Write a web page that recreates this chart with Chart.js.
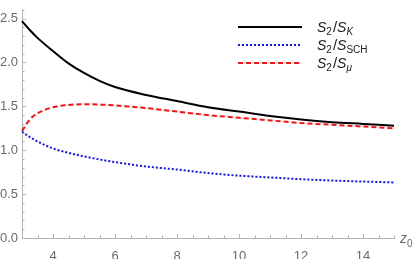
<!DOCTYPE html>
<html>
<head>
<meta charset="utf-8">
<script src="https://cdn.jsdelivr.net/npm/chart.js@4"></script>
<style>
  html, body { margin: 0; padding: 0; background: #fff; }
  #wrap { width: 415px; height: 259px; }
</style>
</head>
<body>
<div id="wrap"><canvas id="chart" width="415" height="259"></canvas></div>
<script>
// z0 values
const zValues = [3, 3.25, 3.5, 4, 4.5, 5, 5.5, 6, 7, 8, 9, 10, 11, 12, 13, 14, 15];
const ratioK   = [2.47, 2.37, 2.28, 2.13, 1.99, 1.88, 1.79, 1.72, 1.63, 1.56, 1.49, 1.44, 1.39, 1.35, 1.32, 1.30, 1.28];
const ratioSCH = [1.21, 1.15, 1.10, 1.02, 0.97, 0.93, 0.895, 0.865, 0.815, 0.78, 0.74, 0.71, 0.69, 0.67, 0.655, 0.643, 0.633];
const ratioMu  = [1.22, 1.35, 1.42, 1.49, 1.515, 1.525, 1.52, 1.51, 1.48, 1.44, 1.40, 1.37, 1.34, 1.31, 1.29, 1.27, 1.25];
const xTickLabels = [4, 6, 8, 10, 12, 14];
const yTickLabels = [0, 0.5, 1, 1.5, 2, 2.5];

const toPoints = (ys) => ys.map((y, i) => ({ x: zValues[i], y: y }));

const axisGray = '#b3b3b3';
const labelGray = '#6b6b6b';

// ticks pointing inward, like the original
const inwardTicks = {
    id: 'inwardTicks',
    afterDraw(chart) {
        const ctx = chart.ctx;
        const xs = chart.scales.x, ys = chart.scales.y;
        const y0 = ys.getPixelForValue(0);
        const x0 = xs.getPixelForValue(3);
        ctx.save();
        ctx.strokeStyle = axisGray;
        ctx.lineWidth = 1;
        ctx.beginPath();
        for (let v = 3.5; v <= 15.001; v += 0.5) {
            const px = Math.round(xs.getPixelForValue(v)) + 0.5;
            const len = (Math.abs(v - Math.round(v)) < 1e-6 && Math.round(v) % 2 === 0) ? 4 : 2.5;
            ctx.moveTo(px, y0);
            ctx.lineTo(px, y0 - len);
        }
        for (let k = 1; k <= 26; k++) {
            const v = k / 10;
            const py = Math.round(ys.getPixelForValue(v)) + 0.5;
            const len = (k % 5 === 0) ? 4 : 2.5;
            ctx.moveTo(x0, py);
            ctx.lineTo(x0 + len, py);
        }
        ctx.stroke();
        // axis label z0
        ctx.fillStyle = labelGray;
        ctx.textBaseline = 'alphabetic';
        ctx.font = 'italic 14px "Liberation Sans"';
        ctx.fillText('z', 400, 243);
        ctx.font = '10px "Liberation Sans"';
        ctx.fillText('0', 407, 247);
        ctx.restore();
    }
};

// legend with subscripts
const legendEntries = [
    { color: '#000000', dash: [], sub: 'K', subItalic: true },
    { color: '#1010ff', dash: [2, 2], sub: 'SCH', subItalic: false },
    { color: '#ff1010', dash: [5, 3], sub: 'μ', subItalic: true }
];
const subLegend = {
    id: 'subLegend',
    afterDraw(chart) {
        const ctx = chart.ctx;
        ctx.save();
        legendEntries.forEach((e, i) => {
            const y = 27 + i * 18;
            ctx.strokeStyle = e.color;
            ctx.lineWidth = 2;
            ctx.setLineDash(e.dash);
            ctx.beginPath();
            ctx.moveTo(238, y);
            ctx.lineTo(302, y);
            ctx.stroke();
            ctx.setLineDash([]);
            ctx.fillStyle = '#222';
            ctx.textBaseline = 'alphabetic';
            let x = 317;
            const base = y + 5;
            ctx.font = 'italic 14px "Liberation Sans"';
            ctx.fillText('S', x, base); x += ctx.measureText('S').width;
            ctx.font = '10px "Liberation Sans"';
            ctx.fillText('2', x, base + 3); x += ctx.measureText('2').width + 1;
            ctx.font = '15px "Liberation Sans"';
            ctx.fillText('/', x, base); x += ctx.measureText('/').width;
            ctx.font = 'italic 14px "Liberation Sans"';
            ctx.fillText('S', x, base); x += ctx.measureText('S').width;
            ctx.font = (e.subItalic ? 'italic ' : '') + '10px "Liberation Sans"';
            ctx.fillText(e.sub, x, base + 3);
        });
        ctx.restore();
    }
};

const mkLine = (label, data, color, dash) => ({
    label: label,
    data: toPoints(data),
    borderColor: color,
    borderWidth: 2,
    borderDash: dash,
    pointRadius: 0,
    fill: false,
    cubicInterpolationMode: 'monotone'
});

new Chart(document.getElementById('chart').getContext('2d'), {
    type: 'line',
    data: {
        datasets: [
            mkLine('S2/SK', ratioK, '#000000', []),
            mkLine('S2/SSCH', ratioSCH, '#1010ff', [2, 2]),
            mkLine('S2/Sμ', ratioMu, '#ff1010', [5, 3])
        ]
    },
    options: {
        responsive: false,
        animation: false,
        clip: false,
        layout: { padding: { top: 1, right: 21, left: 0, bottom: 0 } },
        plugins: { legend: { display: false }, tooltip: { enabled: false } },
        scales: {
            x: {
                type: 'linear',
                min: 3,
                max: 15,
                grid: { display: false },
                border: { display: true, color: axisGray, width: 1 },
                afterBuildTicks: (scale) => { scale.ticks = xTickLabels.map(v => ({ value: v })); },
                afterFit: (scale) => { scale.height = 21; },
                ticks: {
                    autoSkip: false,
                    maxRotation: 0,
                    padding: 3,
                    color: labelGray,
                    font: { family: '"Liberation Sans"', size: 13 },
                    callback: (v) => String(v)
                }
            },
            y: {
                type: 'linear',
                min: 0,
                max: 2.6,
                grid: { display: false },
                border: { display: true, color: axisGray, width: 1 },
                afterBuildTicks: (scale) => { scale.ticks = yTickLabels.map(v => ({ value: v })); },
                afterFit: (scale) => { scale.width = 22; },
                ticks: {
                    autoSkip: false,
                    crossAlign: 'far',
                    padding: 2,
                    color: labelGray,
                    font: { family: '"Liberation Sans"', size: 13 },
                    callback: (v) => Number(v).toFixed(1)
                }
            }
        }
    },
    plugins: [inwardTicks, subLegend]
});
</script>
</body>
</html>
